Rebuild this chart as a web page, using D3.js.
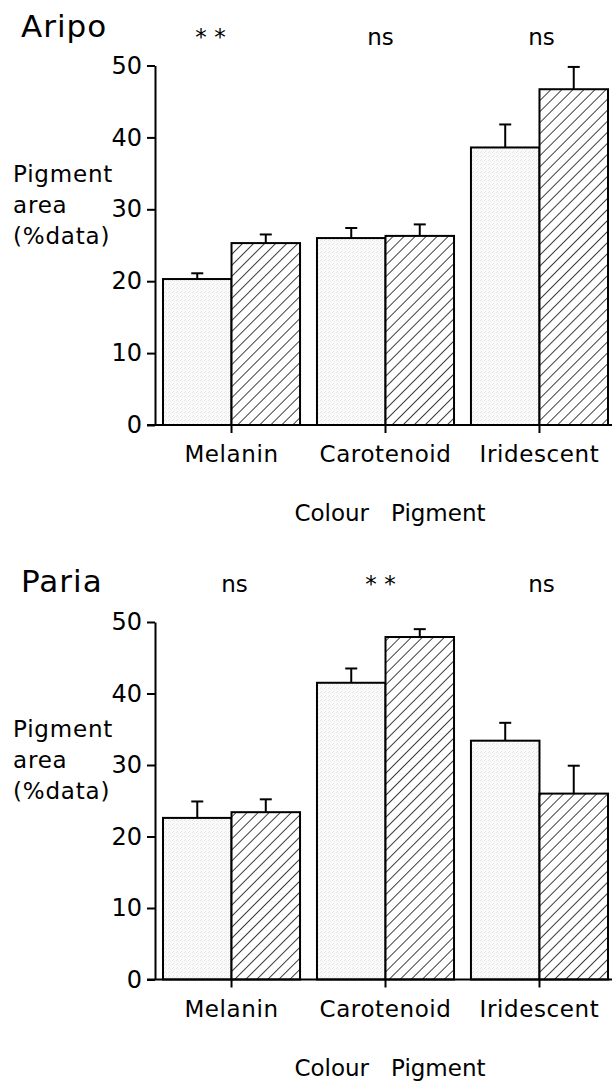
<!DOCTYPE html>
<html>
<head>
<meta charset="utf-8">
<script src="https://cdn.jsdelivr.net/npm/d3@7"></script>
<style>
  body { margin: 0; background: #fff; }
  text { font-family: "DejaVu Sans", sans-serif; fill: #000; }
</style>
</head>
<body>
<script>
var w = 612,
    h = 1082;

// data (bar value, +SE)
var categories = ["Melanin", "Carotenoid", "Iridescent"];
var series = ["light", "hatched"];

var aripoLight = [20.3, 26.0, 38.6];
var aripoLightErr = [0.8, 1.4, 3.2];
var aripoHatched = [25.3, 26.3, 46.7];
var aripoHatchedErr = [1.2, 1.6, 3.1];
var aripoSig = ["* *", "ns", "ns"];

var pariaLight = [22.6, 41.5, 33.4];
var pariaLightErr = [2.3, 2.0, 2.5];
var pariaHatched = [23.4, 47.9, 26.0];
var pariaHatchedErr = [1.8, 1.1, 3.9];
var pariaSig = ["ns", "* *", "ns"];

var yTicks = [0, 10, 20, 30, 40, 50];

var svg = d3.select("body")
    .append("svg")
    .attr("width", w)
    .attr("height", h);

var defs = svg.append("defs");

// light stipple fill
var stip = defs.append("pattern")
    .attr("id", "stipple")
    .attr("patternUnits", "userSpaceOnUse")
    .attr("width", 4)
    .attr("height", 4);
stip.append("rect").attr("width", 4).attr("height", 4).attr("fill", "#fbfbfb");
[[0, 0], [2, 1], [1, 3]].forEach(function(p) {
  stip.append("rect").attr("x", p[0]).attr("y", p[1])
      .attr("width", 1).attr("height", 1).attr("fill", "#e2e2e2");
});

// diagonal hatch
var hatch = defs.append("pattern")
    .attr("id", "hatch")
    .attr("patternUnits", "userSpaceOnUse")
    .attr("width", 7.8)
    .attr("height", 7.8)
    .attr("patternTransform", "rotate(45)");
hatch.append("rect").attr("width", 7.8).attr("height", 7.8).attr("fill", "#fff");
hatch.append("line")
    .attr("x1", 0).attr("y1", 0)
    .attr("x2", 0).attr("y2", 7.8)
    .attr("stroke", "#000")
    .attr("stroke-width", 1.5);

var x = d3.scaleBand()
    .domain(categories)
    .range([163, 608])
    .paddingInner(0.11);

var xs = d3.scaleBand()
    .domain(series)
    .range([0, x.bandwidth()]);

var fills = {light: "url(#stipple)", hatched: "url(#hatch)"};

var panels = [
  {title: "Aripo", base: 425, top: 65.5, dy: 0, titleY: 37, sigY: 45,
   sigDx: [-21, -5, 2], sig: aripoSig,
   vals: {light: aripoLight, hatched: aripoHatched},
   errs: {light: aripoLightErr, hatched: aripoHatchedErr}},
  {title: "Paria", base: 979.5, top: 622, dy: 555, titleY: 592, sigY: 592,
   sigDx: [3, -5, 2], sig: pariaSig,
   vals: {light: pariaLight, hatched: pariaHatched},
   errs: {light: pariaLightErr, hatched: pariaHatchedErr}}
];

panels.forEach(function(p) {
  var g = svg.append("g");

  var y = d3.scaleLinear()
      .domain([0, 50])
      .range([p.base, p.top]);

  var rows = [];
  categories.forEach(function(c, i) {
    series.forEach(function(s) {
      rows.push({cat: c, s: s, v: p.vals[s][i], e: p.errs[s][i]});
    });
  });

  // error bars (upper only)
  var eb = g.selectAll(".err")
      .data(rows)
      .enter().append("g")
      .attr("class", "err")
      .attr("stroke", "#000")
      .attr("stroke-width", 2);
  eb.append("line")
      .attr("x1", function(d) { return x(d.cat) + xs(d.s) + xs.bandwidth() / 2; })
      .attr("x2", function(d) { return x(d.cat) + xs(d.s) + xs.bandwidth() / 2; })
      .attr("y1", function(d) { return y(d.v); })
      .attr("y2", function(d) { return y(d.v + d.e); });
  eb.append("line")
      .attr("x1", function(d) { return x(d.cat) + xs(d.s) + xs.bandwidth() / 2 - 6; })
      .attr("x2", function(d) { return x(d.cat) + xs(d.s) + xs.bandwidth() / 2 + 6; })
      .attr("y1", function(d) { return y(d.v + d.e); })
      .attr("y2", function(d) { return y(d.v + d.e); });

  g.selectAll(".bar")
      .data(rows)
      .enter().append("rect")
      .attr("class", "bar")
      .attr("x", function(d) { return x(d.cat) + xs(d.s); })
      .attr("y", function(d) { return y(d.v); })
      .attr("width", xs.bandwidth())
      .attr("height", function(d) { return y(0) - y(d.v); })
      .attr("fill", function(d) { return fills[d.s]; })
      .attr("stroke", "#000")
      .attr("stroke-width", 2);

  // y axis
  var ya = g.append("g")
      .attr("transform", "translate(155,0)")
      .call(d3.axisLeft(y).tickValues(yTicks).tickSize(8).tickSizeOuter(0).tickPadding(5));
  ya.select(".domain").attr("stroke-width", 2);
  ya.selectAll(".tick line").attr("stroke-width", 2);
  ya.selectAll(".tick text")
      .style("font-family", "DejaVu Sans")
      .style("font-size", "24px")
      .attr("fill", "#000");

  // x axis
  var xa = g.append("g")
      .attr("transform", "translate(0," + p.base + ")")
      .call(d3.axisBottom(x).tickSize(8).tickPadding(13));
  xa.select(".domain").remove();
  xa.selectAll(".tick line").attr("stroke-width", 2);
  xa.selectAll(".tick text")
      .style("font-family", "DejaVu Sans")
      .style("font-size", "23px")
      .style("letter-spacing", "0.6px")
      .attr("fill", "#000");
  g.append("line")
      .attr("x1", 147).attr("x2", w)
      .attr("y1", p.base).attr("y2", p.base)
      .attr("stroke", "#000")
      .attr("stroke-width", 2);

  // titles and labels
  g.append("text")
      .attr("x", 21)
      .attr("y", p.titleY)
      .style("font-size", "31px")
      .style("letter-spacing", "1px")
      .text(p.title);

  g.selectAll(".sig")
      .data(p.sig)
      .enter().append("text")
      .attr("class", "sig")
      .attr("x", function(d, i) { return x(categories[i]) + x.bandwidth() / 2 + p.sigDx[i]; })
      .attr("y", p.sigY)
      .attr("text-anchor", "middle")
      .style("font-size", "23px")
      .style("white-space", "pre")
      .text(function(d) { return d; });

  var yl = g.append("text")
      .attr("x", 13)
      .attr("y", 182 + p.dy)
      .style("font-size", "23px")
      .style("letter-spacing", "0.8px");
  ["Pigment", "area", "(%data)"].forEach(function(t, i) {
    yl.append("tspan").attr("x", 13).attr("dy", i ? 31 : 0).text(t);
  });

  g.append("text")
      .attr("x", 390)
      .attr("y", 521 + p.dy)
      .attr("text-anchor", "middle")
      .style("font-size", "23px")
      .style("white-space", "pre")
      .text("Colour   Pigment");
});
</script>
</body>
</html>
